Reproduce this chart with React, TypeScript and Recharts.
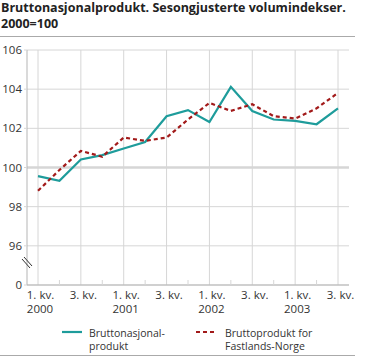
import React from "react";
import { LineChart, Line, XAxis, YAxis, CartesianGrid, ReferenceLine, Legend } from "recharts";

const quarters = [
  "2000K1", "2000K2", "2000K3", "2000K4",
  "2001K1", "2001K2", "2001K3", "2001K4",
  "2002K1", "2002K2", "2002K3", "2002K4",
  "2003K1", "2003K2", "2003K3",
];
const quarterLabels = [
  "1. kv.", "", "3. kv.", "",
  "1. kv.", "", "3. kv.", "",
  "1. kv.", "", "3. kv.", "",
  "1. kv.", "", "3. kv.",
];
const yearLabels = [
  "2000", "", "", "",
  "2001", "", "", "",
  "2002", "", "", "",
  "2003", "", "",
];
const bnp = [99.56, 99.32, 100.41, 100.63, 100.97, 101.3, 102.62, 102.93, 102.32, 104.12, 102.88, 102.45, 102.38, 102.21, 103.02];
const fastland = [98.81, 99.87, 100.85, 100.55, 101.53, 101.36, 101.53, 102.45, 103.3, 102.89, 103.23, 102.62, 102.5, 103.02, 103.81];
const yTicks = [94, 96, 98, 100, 102, 104, 106];
const yTickLabels = ["0", "96", "98", "100", "102", "104", "106"];
const seriesNames = ["Bruttonasjonal-\nprodukt", "Bruttoprodukt for\nFastlands-Norge"];

const data = quarters.map((q, i) => ({ q, bnp: bnp[i], fastland: fastland[i] }));

const TEAL = "#1e9c9b";
const RED = "#a21a1a";
const GRID = "#d6d6d6";
const AXIS = "#b5b5b5";
const FONT = "'Open Sans', 'Noto Sans', sans-serif";

const XTick = (props: any) => {
  const { x, y, index } = props;
  const ql = quarterLabels[index];
  const yl = yearLabels[index];
  if (!ql) {
    return <line x1={x} x2={x} y1={y - 5} y2={y} stroke={GRID} strokeWidth={1} />;
  }
  return (
    <g>
      <text x={x + 2.5} y={y + 13.5} textAnchor="middle" fontSize={11.5} fill="#333" fontFamily={FONT}>{ql}</text>
      {yl && <text x={x + 2} y={y + 28} textAnchor="middle" fontSize={11.5} fill="#333" fontFamily={FONT}>{yl}</text>}
    </g>
  );
};

const YTick = (props: any) => {
  const { x, y, payload } = props;
  const idx = yTicks.indexOf(payload.value);
  const label = idx >= 0 ? yTickLabels[idx] : String(payload.value);
  return (
    <g>
      <text x={x} y={y + 4} textAnchor="end" fontSize={11.5} fill="#333" fontFamily={FONT}>{label}</text>
      {payload.value === 94 && (
        <g stroke="#333" strokeWidth={1}>
          <line x1={x + 0} y1={y - 26} x2={x + 8} y2={y - 17} />
          <line x1={x + 2} y1={y - 28} x2={x + 10} y2={y - 19} />
        </g>
      )}
    </g>
  );
};

const LegendContent = () => {
  const items = [
    { name: seriesNames[0], color: TEAL, dash: undefined, iconX: 62, textX: 89 },
    { name: seriesNames[1], color: RED, dash: "4 3", iconX: 196, textX: 225 },
  ];
  return (
    <svg width={366} height={35} style={{ display: "block" }}>
      {items.map((it, i) => {
        const lines = it.name.split("\n");
        return (
          <g key={i}>
            <line x1={it.iconX} x2={it.iconX + 20} y1={10} y2={10} stroke={it.color} strokeWidth={2.2} strokeDasharray={it.dash} />
            {lines.map((l, j) => (
              <text key={j} x={it.textX} y={15 + j * 13} fontSize={10.5} fill="#333" fontFamily={FONT}>{l}</text>
            ))}
          </g>
        );
      })}
    </svg>
  );
};

export default function App() {
  return (
    <div style={{ position: "absolute", left: 0, top: 0, width: 366, height: 357, background: "#fff", fontFamily: FONT }}>
      <div style={{ position: "absolute", left: 1, top: 0, fontSize: 12.5, fontWeight: 700, lineHeight: "16px", color: "#222", whiteSpace: "nowrap" }}>
        Bruttonasjonalprodukt. Sesongjusterte volumindekser.<br />2000=100
      </div>
      <div style={{ position: "absolute", left: 0, top: 36, width: 355, height: 1, background: "#aaa" }} />
      <div style={{ position: "absolute", left: 0, top: 355, width: 355, height: 1, background: "#aaa" }} />
      <div style={{ position: "absolute", left: 0, top: 0 }}>
        <LineChart width={366} height={357} data={data} margin={{ top: 50, right: 17, bottom: 0, left: 0 }}>
          <CartesianGrid vertical={false} stroke={GRID} />
          {quarters.filter((_, i) => i % 2 === 0).map((q) => (
            <ReferenceLine key={q} x={q} stroke={GRID} strokeWidth={1} ifOverflow="extendDomain" />
          ))}
          <ReferenceLine y={100} stroke={GRID} strokeWidth={2.5} />
          <XAxis
            dataKey="q"
            interval={0}
            padding={{ left: 11, right: 11 }}
            tick={<XTick />}
            tickLine={false}
            tickSize={0}
            tickMargin={0}
            height={37}
            axisLine={{ stroke: AXIS }}
          />
          <YAxis
            domain={[94, 106]}
            ticks={yTicks}
            interval={0}
            width={27}
            tick={<YTick />}
            tickSize={3}
            tickMargin={2}
            tickLine={{ stroke: GRID }}
            axisLine={{ stroke: AXIS }}
          />
          <Legend verticalAlign="bottom" content={<LegendContent />} wrapperStyle={{ left: 0, width: 366, height: 35 }} />
          <Line type="linear" dataKey="bnp" stroke={TEAL} strokeWidth={2.2} dot={false} isAnimationActive={false} />
          <Line type="linear" dataKey="fastland" stroke={RED} strokeWidth={2.2} strokeDasharray="4 3" dot={false} isAnimationActive={false} />
        </LineChart>
      </div>
    </div>
  );
}
